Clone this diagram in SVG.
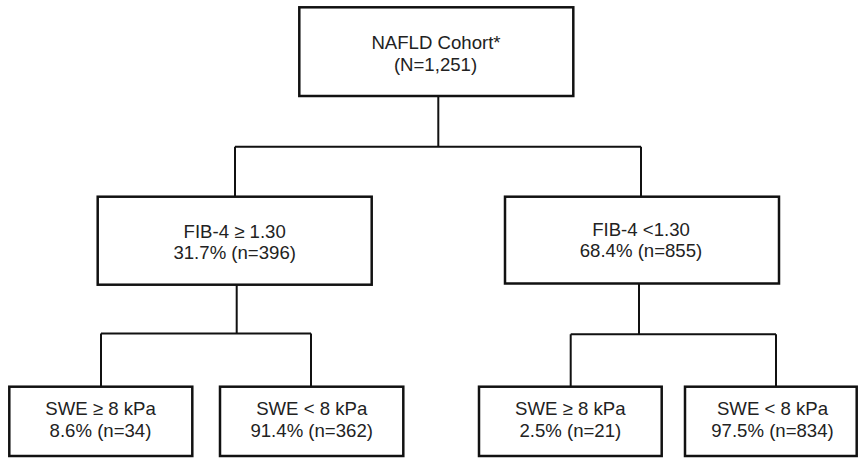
<svg xmlns="http://www.w3.org/2000/svg" width="858" height="458" viewBox="0 0 858 458">
<style>
rect.box{fill:#fff;stroke:#111;stroke-width:2.5}
.conn path{fill:none;stroke:#111;stroke-width:2}
text{font-family:"Liberation Sans",Arial,sans-serif;font-size:18.6px;fill:#222;text-anchor:middle}
</style>
<rect width="858" height="458" fill="#fff"/>
<g class="conn" id="connectors">
<path d="M438.3 96 V146.7 M235 146.7 H641 M235 146.7 V196.7 M641 146.7 V196.7"/>
<path d="M236.7 284.7 V333.5 M101 333.5 H311 M101 333.5 V386.7 M311 333.5 V386.7"/>
<path d="M639 283.5 V334.3 M570.7 334.3 H776 M570.7 334.3 V386.7 M776 334.3 V386.7"/>
</g>
<g id="root">
<rect class="box" x="299.3" y="7.3" width="274" height="88.7"/>
<text x="436" y="49">NAFLD Cohort*</text>
<text x="435.5" y="70.5">(N=1,251)</text>
</g>
<g id="fib_high">
<rect class="box" x="97.7" y="196.7" width="274" height="88"/>
<text x="234.7" y="237.8">FIB-4 ≥ 1.30</text>
<text x="234.7" y="258.6">31.7% (n=396)</text>
</g>
<g id="fib_low">
<rect class="box" x="505" y="196.7" width="274" height="86.8"/>
<text x="641" y="236">FIB-4 &lt;1.30</text>
<text x="641" y="257">68.4% (n=855)</text>
</g>
<g id="swe_high_1">
<rect class="box" x="9.3" y="386.7" width="183" height="69.3"/>
<text x="100.5" y="415">SWE ≥ 8 kPa</text>
<text x="100.5" y="436.5">8.6% (n=34)</text>
</g>
<g id="swe_low_1">
<rect class="box" x="220" y="386.7" width="183.3" height="69.3"/>
<text x="311.7" y="415">SWE &lt; 8 kPa</text>
<text x="311.7" y="436.5">91.4% (n=362)</text>
</g>
<g id="swe_high_2">
<rect class="box" x="479" y="386.7" width="182.7" height="69.3"/>
<text x="570.3" y="415">SWE ≥ 8 kPa</text>
<text x="570.3" y="436.5">2.5% (n=21)</text>
</g>
<g id="swe_low_2">
<rect class="box" x="685" y="386.7" width="171.7" height="69.3"/>
<text x="772.5" y="415">SWE &lt; 8 kPa</text>
<text x="772.5" y="436.5">97.5% (n=834)</text>
</g>
</svg>
